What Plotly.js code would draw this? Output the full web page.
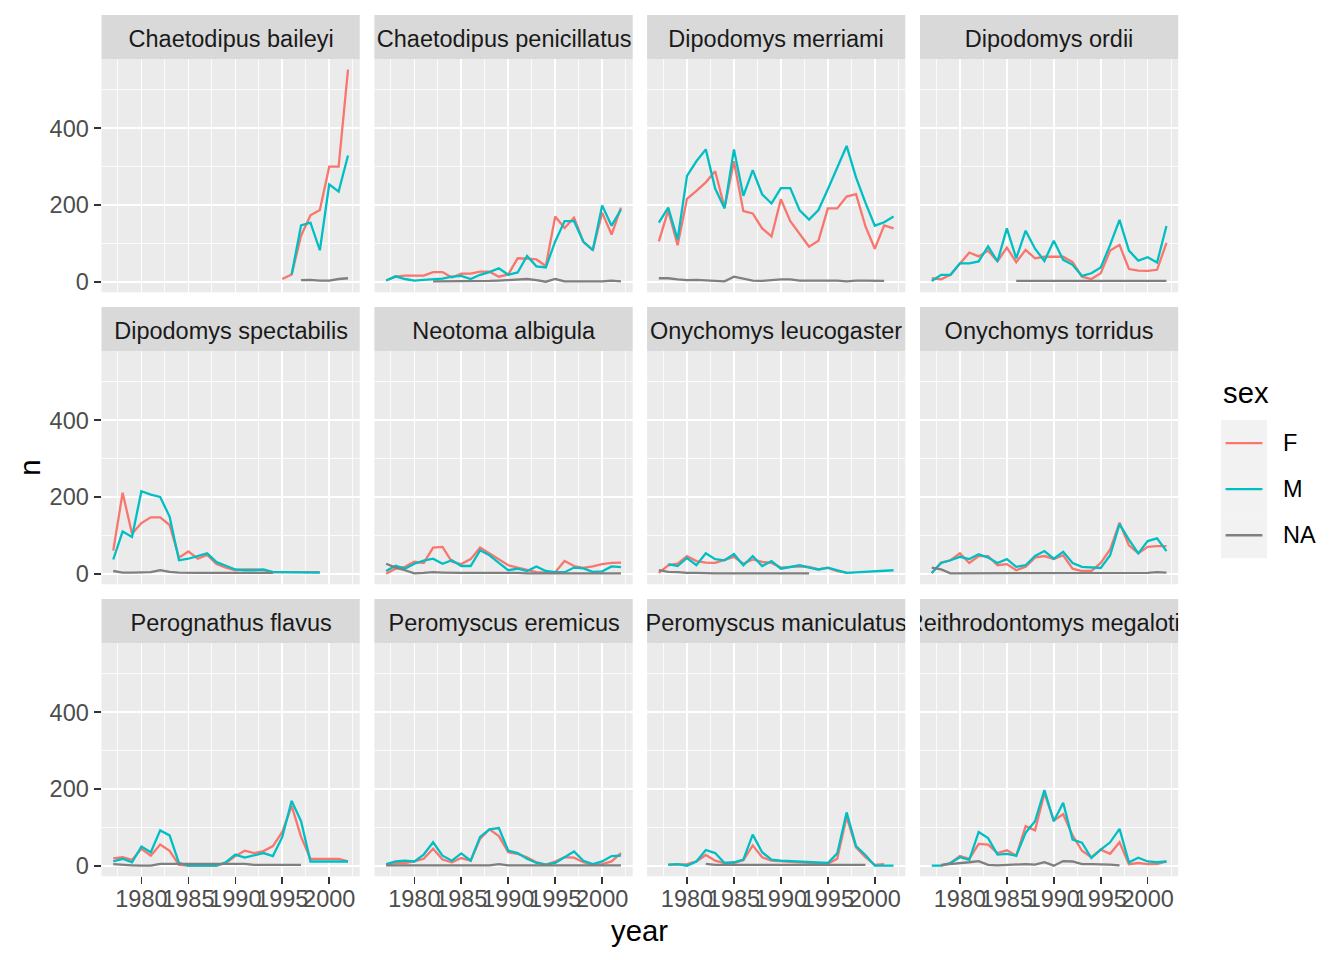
<!DOCTYPE html>
<html><head><meta charset="utf-8">
<script src="https://cdn.plot.ly/plotly-3.0.1.min.js"></script>
<style>html,body{margin:0;padding:0;background:#fff}#chart{width:1344px;height:960px}</style>
</head><body><div id="chart"></div>
<script>
const years = [1977,1978,1979,1980,1981,1982,1983,1984,1985,1986,1987,1988,1989,1990,1991,1992,1993,1994,1995,1996,1997,1998,1999,2000,2001,2002];
const species = ["Chaetodipus baileyi","Chaetodipus penicillatus","Dipodomys merriami","Dipodomys ordii",
  "Dipodomys spectabilis","Neotoma albigula","Onychomys leucogaster","Onychomys torridus",
  "Perognathus flavus","Peromyscus eremicus","Peromyscus maniculatus","Reithrodontomys megalotis"];
const sexLevels = ["F","M","NA"];
const sexColors = ["#F8766D","#00BFC4","#7F7F7F"];
const xTicks = [1980,1985,1990,1995,2000];
const yTicks = [0,200,400];
const N = null;

const baileyi_F = [N,N,N,N,N,N,N,N,N,N,N,N,N,N,N,N,N,N,7,19,120,173,187,300,300,553];
const baileyi_M = [N,N,N,N,N,N,N,N,N,N,N,N,N,N,N,N,N,N,N,19,147,154,82,254,235,329];
const baileyi_NA = [N,N,N,N,N,N,N,N,N,N,N,N,N,N,N,N,N,N,N,N,4,5,3,3,7,9];

const penicillatus_F = [3,13,16,16,16,25,25,11,21,21,26,26,13,19,61,60,58,41,170,140,167,104,83,180,123,193];
const penicillatus_M = [3,14,7,3,5,7,8,13,15,7,18,25,35,18,24,67,40,37,105,158,158,104,82,199,146,188];
const penicillatus_NA = [N,N,N,N,N,1,1,1,1,1,2,2,3,4,5,7,4,0,7,1,1,1,1,1,3,1];

const merriami_F = [105,186,95,216,237,259,288,193,314,184,178,139,118,215,158,123,91,107,191,191,222,228,145,86,147,139];
const merriami_M = [154,193,110,276,314,345,243,191,345,224,291,228,204,244,244,186,162,187,241,298,354,272,206,146,155,170];
const merriami_NA = [9,9,6,4,5,4,2,1,13,7,3,2,4,6,6,3,3,3,3,3,1,3,3,2,2,N];

const ordii_F = [9,6,18,48,76,66,81,53,89,51,83,61,65,65,65,51,13,7,22,81,96,33,29,28,31,101];
const ordii_M = [2,18,18,48,48,53,92,53,139,61,133,86,54,107,57,44,15,22,37,96,161,81,55,64,50,145];
const ordii_NA = [N,N,N,N,N,N,N,N,N,2,2,2,2,2,2,2,2,2,2,2,2,2,2,2,2,2];

const spectabilis_F = [60,211,104,132,147,147,127,42,58,39,49,25,16,9,11,11,9,4,4,4,5,5,4,N,N,N];
const spectabilis_M = [37,110,96,215,206,200,149,35,39,46,53,30,21,11,9,9,11,4,4,4,4,4,3,N,N,N];
const spectabilis_NA = [7,3,3,4,4,9,5,3,2,2,2,2,2,2,2,2,2,2,N,N,N,N,N,N,N,N];

const albigula_F = [0,13,18,31,28,68,70,31,25,38,68,53,39,22,16,9,4,3,4,33,20,15,19,25,28,29];
const albigula_M = [7,21,13,26,34,39,26,35,20,20,61,48,28,9,13,7,19,7,4,4,16,14,5,6,19,17];
const albigula_NA = [26,16,9,1,2,4,3,2,2,2,2,3,2,2,2,1,1,1,1,1,1,1,1,1,1,1];

const leucogaster_F = [2,22,26,46,33,29,28,35,44,26,37,31,28,16,18,19,18,11,15,7,3,N,N,N,N,N];
const leucogaster_M = [N,25,20,41,22,53,38,35,51,22,46,20,33,13,18,22,16,11,16,9,2,N,N,N,N,9];
const leucogaster_NA = [9,5,4,2,2,1,1,1,1,1,1,1,1,1,1,1,1,N,N,N,N,N,N,N,N,N];

const torridus_F = [2,29,35,53,28,46,46,22,25,9,18,42,46,38,48,13,7,7,28,63,133,74,53,70,72,72];
const torridus_M = [2,28,35,44,38,51,42,28,38,18,22,46,59,39,57,28,18,16,15,48,129,89,53,85,92,59];
const torridus_NA = [16,11,1,1,1,1,1,1,1,1,1,1,1,1,1,1,1,1,1,1,1,1,1,2,4,3];

const flavus_F = [19,22,15,44,26,55,39,2,0,0,0,0,7,25,39,33,38,51,88,156,75,18,18,18,18,11];
const flavus_M = [11,18,9,50,35,92,79,7,0,0,0,0,9,29,21,26,33,25,75,169,116,11,11,11,11,11];
const flavus_NA = [4,2,1,0,0,5,5,5,5,5,5,5,5,5,5,2,2,2,2,2,2,N,N,N,N,N];

const eremicus_F = [3,7,7,11,18,44,16,9,20,13,70,95,77,35,31,22,9,3,11,22,21,9,3,4,11,33];
const eremicus_M = [4,11,13,11,29,61,26,13,32,13,75,95,98,39,33,18,7,3,7,22,37,13,4,11,25,26];
const eremicus_NA = [1,1,1,1,1,1,1,1,1,1,1,1,4,1,1,1,1,1,1,1,1,1,1,1,1,1];

const maniculatus_F = [N,2,3,4,11,28,13,7,7,14,53,22,13,11,10,9,8,7,5,18,127,48,22,2,4,N];
const maniculatus_M = [N,3,4,0,11,41,33,7,9,16,81,35,16,13,12,11,10,9,7,32,139,51,28,0,0,0];
const maniculatus_NA = [N,N,N,N,N,5,2,2,2,2,2,2,2,2,2,2,2,2,2,2,2,2,2,N,N,N];

const megalotis_F = [N,0,7,25,18,57,55,33,40,26,103,92,189,118,134,79,39,22,42,31,61,4,7,4,4,11];
const megalotis_M = [0,0,7,22,15,88,72,29,31,26,86,116,197,116,164,68,60,20,42,61,96,9,21,11,9,11];
const megalotis_NA = [N,2,4,6,9,12,2,1,2,2,4,3,9,0,12,11,4,4,4,3,1,N,N,N,N,N];

const seriesBySpecies = [
  [baileyi_F, baileyi_M, baileyi_NA],
  [penicillatus_F, penicillatus_M, penicillatus_NA],
  [merriami_F, merriami_M, merriami_NA],
  [ordii_F, ordii_M, ordii_NA],
  [spectabilis_F, spectabilis_M, spectabilis_NA],
  [albigula_F, albigula_M, albigula_NA],
  [leucogaster_F, leucogaster_M, leucogaster_NA],
  [torridus_F, torridus_M, torridus_NA],
  [flavus_F, flavus_M, flavus_NA],
  [eremicus_F, eremicus_M, eremicus_NA],
  [maniculatus_F, maniculatus_M, maniculatus_NA],
  [megalotis_F, megalotis_M, megalotis_NA]
];

// ---- layout geometry (pixels) ----
const W = 1344, H = 960;
const FONT = "Liberation Sans, Arial, Helvetica, sans-serif";
const colPx = [[101.5,359.75],[374.4,632.7],[647.1,905.3],[920,1178.2]];
const rowPx = [[59,292.3],[351,584.3],[643,876.3]];
const stripPx = [[15,59],[307,351],[599,643]];
const fx = p => p / W;
const fy = p => 1 - p / H;

const traces = [];
const layout = {
  width: W, height: H,
  margin: {l:0, r:0, t:0, b:0},
  paper_bgcolor: "#FFFFFF",
  plot_bgcolor: "#EBEBEB",
  showlegend: false,
  font: {family: FONT, color: "#000000"},
  shapes: [], annotations: []
};

species.forEach((sp, i) => {
  const r = Math.floor(i / 4), c = i % 4;
  const n = i === 0 ? "" : String(i + 1);
  const bottom = r === 2, left = c === 0;
  layout["xaxis" + n] = {
    domain: [fx(colPx[c][0]), fx(colPx[c][1])],
    anchor: "y" + n,
    range: [1975.75, 2003.25],
    tickmode: "array", tickvals: xTicks, ticktext: xTicks.map(String),
    showticklabels: bottom, ticks: bottom ? "outside" : "",
    ticklen: 7, tickwidth: 1.6, tickcolor: "#333333",
    tickangle: 0, ticklabelstandoff: -6,
    tickfont: {family: FONT, size: 23.5, color: "#4D4D4D"},
    showgrid: true, gridcolor: "#FFFFFF", gridwidth: 1.6,
    minor: {tick0: 1977.5, dtick: 5, showgrid: true, gridcolor: "#FFFFFF", gridwidth: 0.8, ticks: ""},
    zeroline: false, showline: false, fixedrange: true
  };
  layout["yaxis" + n] = {
    domain: [fy(rowPx[r][1]), fy(rowPx[r][0])],
    anchor: "x" + n,
    range: [-27.65, 580.65],
    tickmode: "array", tickvals: yTicks, ticktext: yTicks.map(String),
    showticklabels: left, ticks: left ? "outside" : "",
    ticklen: 7, tickwidth: 1.6, tickcolor: "#333333",
    tickfont: {family: FONT, size: 23.5, color: "#4D4D4D"},
    showgrid: true, gridcolor: "#FFFFFF", gridwidth: 1.6,
    minor: {tick0: 100, dtick: 200, showgrid: true, gridcolor: "#FFFFFF", gridwidth: 0.8, ticks: ""},
    zeroline: false, showline: false, fixedrange: true
  };
  // strip
  layout.shapes.push({type: "rect", xref: "paper", yref: "paper", layer: "below",
    x0: fx(colPx[c][0]), x1: fx(colPx[c][1]), y0: fy(stripPx[r][1]), y1: fy(stripPx[r][0]),
    fillcolor: "#D9D9D9", line: {width: 0}});
  layout.annotations.push({xref: "paper", yref: "paper",
    x: fx((colPx[c][0] + colPx[c][1]) / 2), y: fy((stripPx[r][0] + stripPx[r][1]) / 2 + 1.5),
    xanchor: "center", yanchor: "middle", showarrow: false,
    width: colPx[c][1] - colPx[c][0], borderpad: 0, align: "center",
    text: sp, font: {family: FONT, size: 23.5, color: "#1A1A1A"}});

  seriesBySpecies[i].forEach((vals, k) => {
    traces.push({type: "scatter", mode: "lines", x: years, y: vals,
      xaxis: "x" + n, yaxis: "y" + n, name: sexLevels[k],
      line: {color: sexColors[k], width: 2.3}, connectgaps: true,
      hoverinfo: "skip", showlegend: false});
  });
});

// axis titles
layout.annotations.push({xref: "paper", yref: "paper", x: fx((colPx[0][0] + colPx[3][1]) / 2), y: fy(930),
  xanchor: "center", yanchor: "middle", showarrow: false, text: "year",
  font: {family: FONT, size: 29.3, color: "#000000"}});
layout.annotations.push({xref: "paper", yref: "paper", x: fx(30), y: fy((rowPx[0][0] + rowPx[2][1]) / 2),
  xanchor: "center", yanchor: "middle", showarrow: false, text: "n", textangle: -90,
  font: {family: FONT, size: 29.3, color: "#000000"}});

// legend
layout.annotations.push({xref: "paper", yref: "paper", x: fx(1221), y: fy(392),
  xanchor: "left", yanchor: "middle", showarrow: false, text: "sex",
  font: {family: FONT, size: 29.3, color: "#000000"}});
const keyTop = 420, keyH = 46.1, keyL = 1221, keyR = 1267;
sexLevels.forEach((s, k) => {
  const t = keyTop + k * keyH, cy = t + keyH / 2;
  layout.shapes.push({type: "rect", xref: "paper", yref: "paper",
    x0: fx(keyL), x1: fx(keyR), y0: fy(t + keyH), y1: fy(t),
    fillcolor: "#F2F2F2", line: {width: 0}});
  layout.shapes.push({type: "line", xref: "paper", yref: "paper",
    x0: fx(keyL + 4.6), x1: fx(keyR - 4.6), y0: fy(cy), y1: fy(cy),
    line: {color: sexColors[k], width: 2.3}});
  layout.annotations.push({xref: "paper", yref: "paper", x: fx(1281), y: fy(cy),
    xanchor: "left", yanchor: "middle", showarrow: false, text: s,
    font: {family: FONT, size: 23.5, color: "#000000"}});
});

Plotly.newPlot("chart", traces, layout, {staticPlot: true, displayModeBar: false});
</script>
</body></html>
